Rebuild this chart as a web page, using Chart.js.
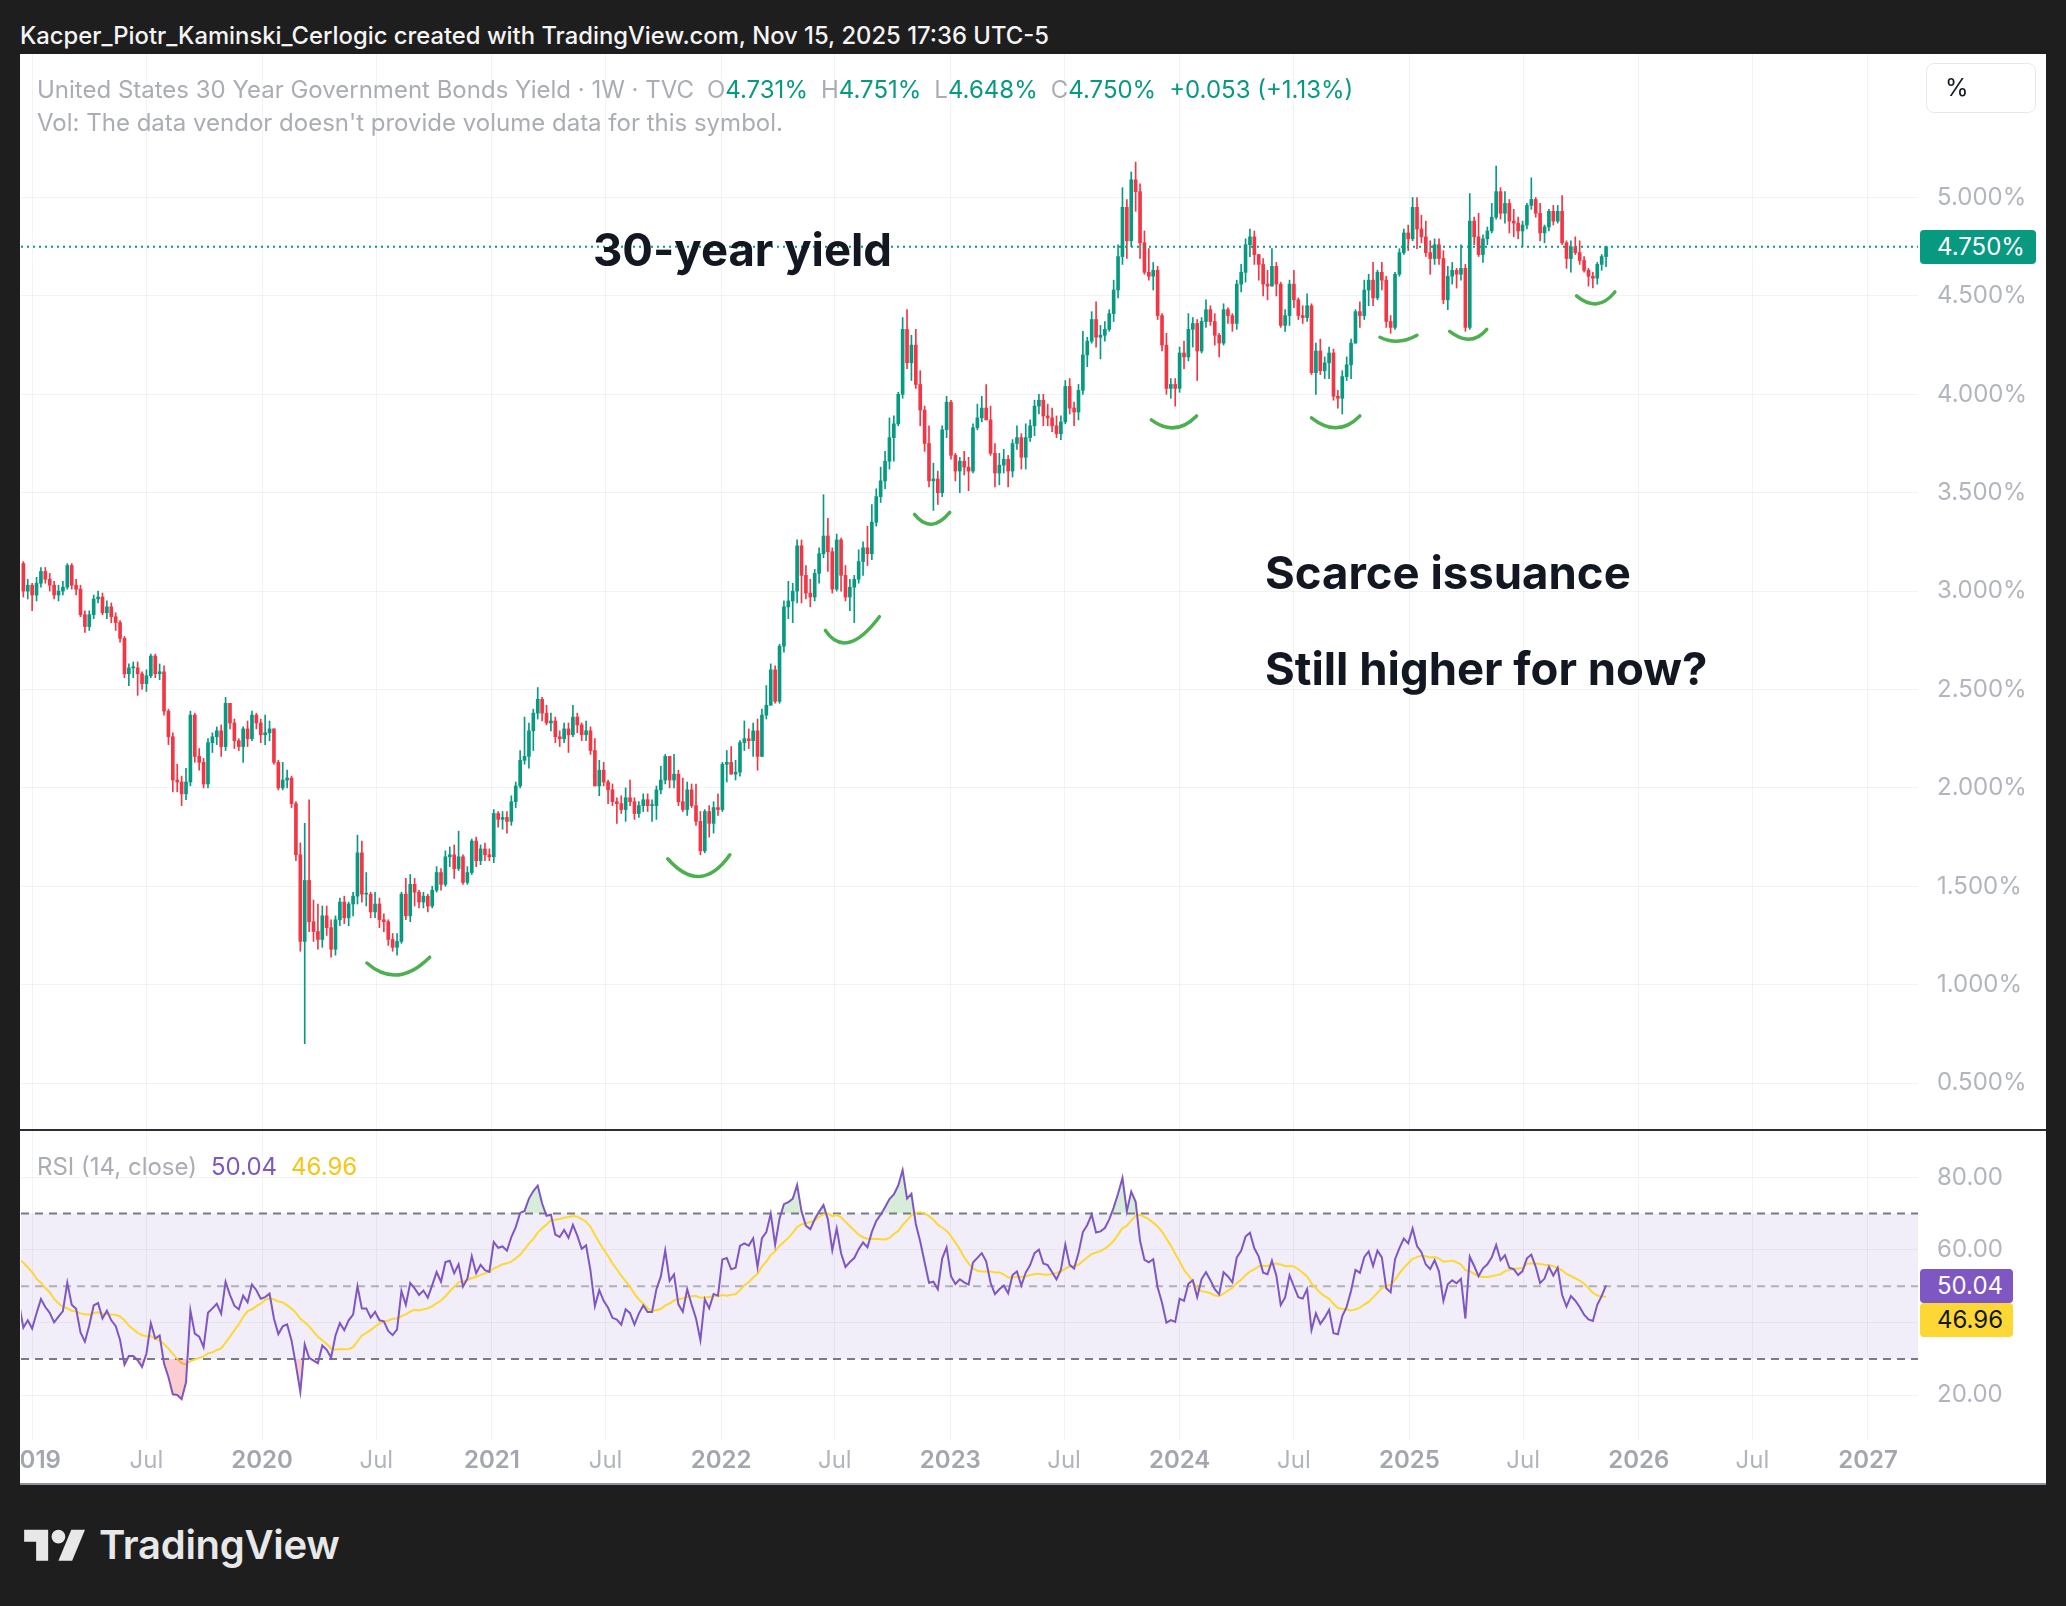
<!DOCTYPE html>
<html lang="en">
<head>
<meta charset="utf-8">
<title>United States 30 Year Government Bonds Yield</title>
<script src="https://cdn.jsdelivr.net/npm/chart.js@4.4.1/dist/chart.umd.min.js"></script>
<style>
  html, body { margin: 0; padding: 0; }
  body { width: 2066px; height: 1606px; background: #1e1e1e; position: relative; overflow: hidden;
         font-family: Inter, "Noto Sans", sans-serif; }
  .abs { position: absolute; white-space: nowrap; }
  #panel { left: 20px; top: 54px; width: 2026px; height: 1431px; background: #fff; border-bottom: 2px solid #8f929a; box-sizing: border-box; }
  #title { left: 20px; top: 20px; font-size: 23.8px; line-height: 32px; color: #f4f4f4; font-weight: 500; }
  .legend { left: 37px; font-size: 24px; line-height: 32px; color: #abadb5; }
  .legend span { margin-left: 13px; }
  .legend span.up { margin-left: 0; color: #089981; }
  #leg1 { top: 74px; }
  #leg2 { top: 107px; }
  #pctBtn { left: 1926px; top: 63px; width: 110px; height: 50px; border: 1px solid #e6e8ee; border-radius: 8px;
            font-size: 24px; line-height: 48px; color: #131722; box-sizing: border-box; padding-left: 18px; }
  canvas { position: absolute; }
  #priceCanvas { left: 21px; top: 54px; }
  #rsiCanvas { left: 21px; top: 1131px; }
  #sep { left: 20px; top: 1129px; width: 2026px; height: 2px; background: #2a2e39; }
  .note { font-size: 45.5px; font-weight: 700; color: #131722; line-height: 56px; }
  .tag { font-size: 24px; line-height: 34px; height: 34px; box-sizing: border-box; padding-left: 17px; border-radius: 4px; }
  #rsiLegend { left: 37px; top: 1151px; font-size: 24px; line-height: 32px; color: #abadb5; }
  #rsiLegend span { margin-left: 14px; }
  #logoText { left: 99px; top: 1520px; font-size: 40px; line-height: 50px; font-weight: 600; color: #e8e8e8; letter-spacing: -0.3px; }
</style>
</head>
<body>
<div id="panel" class="abs"></div>
<div id="title" class="abs">Kacper_Piotr_Kaminski_Cerlogic created with TradingView.com, Nov 15, 2025 17:36 UTC-5</div>

<canvas id="priceCanvas" width="2025" height="1076"></canvas>
<canvas id="rsiCanvas" width="2025" height="354"></canvas>
<div id="sep" class="abs"></div>

<div id="leg1" class="abs legend">United States 30 Year Government Bonds Yield · 1W · TVC<span>O</span><span class="up">4.731%</span><span>H</span><span class="up">4.751%</span><span>L</span><span class="up">4.648%</span><span>C</span><span class="up">4.750%</span><span class="up" style="margin-left:13px">+0.053 (+1.13%)</span></div>
<div id="leg2" class="abs legend">Vol: The data vendor doesn't provide volume data for this symbol.</div>
<div id="pctBtn" class="abs">%</div>

<div class="abs note" style="left:593px; top:222px;">30-year yield</div>
<div class="abs note" style="left:1265px; top:545px;">Scarce issuance</div>
<div class="abs note" style="left:1265px; top:641px;">Still higher for now?</div>

<div id="rsiLegend" class="abs">RSI (14, close)<span id="rsiVal" style="color:#7e57c2"></span><span id="maVal" style="color:#f5c518"></span></div>

<div id="priceTag" class="abs tag" style="left:1920px; width:116px; background:#089981; color:#fff;"></div>
<div id="rsiTag" class="abs tag" style="left:1920px; width:93px; background:#7e57c2; color:#fff;"></div>
<div id="maTag" class="abs tag" style="left:1920px; width:93px; background:#fdd835; color:#131722;"></div>

<svg class="abs" style="left:24px; top:1523px" width="62" height="48" viewBox="0 0 36 28">
  <path d="M14 22H7V11H0V4h14v18z" fill="#e8e8e8"/>
  <circle cx="20" cy="8" r="4" fill="#e8e8e8"/>
  <path d="M28 22h-8l7.5-18h8L28 22z" fill="#e8e8e8"/>
</svg>
<div id="logoText" class="abs">TradingView</div>

<script>
// Weekly bars of TVC:US30Y, week starting Monday 2018-12-17, values in %
const firstWeek = '2018-12-17';

// closes of the weeks before the first visible bar, only used to warm up the RSI
const warmupCloses = [
  3.12, 3.12, 3.10, 3.20, 3.03, 3.04, 3.07, 3.04, 3.04, 2.98,
  2.94, 2.94, 3.03, 3.08, 3.08, 3.03, 3.04, 3.00, 3.02, 3.10,
  3.08, 3.21, 3.19, 3.40, 3.32, 3.38, 3.31, 3.46, 3.37, 3.32,
  3.32, 3.30, 3.14, 3.14
];

const closes = [
  3.00, 3.03, 2.98, 3.04, 3.10, 3.06, 3.03, 2.98, 3.00, 3.02,
  3.13, 3.03, 3.01, 2.88, 2.82, 2.88, 2.96, 2.97, 2.89, 2.92,
  2.87, 2.84, 2.76, 2.58, 2.61, 2.61, 2.58, 2.53, 2.57, 2.67,
  2.58, 2.59, 2.39, 2.26, 2.04, 2.03, 1.97, 2.03, 2.37, 2.16,
  2.13, 2.02, 2.23, 2.26, 2.29, 2.21, 2.43, 2.33, 2.24, 2.21,
  2.30, 2.25, 2.37, 2.33, 2.27, 2.28, 2.30, 2.13, 2.00, 2.04,
  2.05, 1.92, 1.66, 1.22, 1.53, 1.32, 1.27, 1.23, 1.35, 1.29,
  1.18, 1.33, 1.42, 1.34, 1.41, 1.45, 1.67, 1.46, 1.46, 1.37,
  1.41, 1.33, 1.32, 1.23, 1.19, 1.22, 1.46, 1.35, 1.51, 1.47,
  1.42, 1.45, 1.40, 1.48, 1.57, 1.51, 1.65, 1.66, 1.59, 1.65,
  1.52, 1.57, 1.73, 1.63, 1.69, 1.66, 1.65, 1.87, 1.84, 1.85,
  1.83, 1.93, 2.01, 2.14, 2.16, 2.29, 2.38, 2.45, 2.38, 2.33,
  2.34, 2.26, 2.25, 2.30, 2.27, 2.36, 2.32, 2.27, 2.29, 2.19,
  2.01, 2.09, 2.03, 1.99, 1.93, 1.92, 1.89, 1.95, 1.93, 1.87,
  1.91, 1.94, 1.91, 1.91, 1.99, 2.04, 2.16, 2.04, 2.07, 1.93,
  1.89, 1.99, 1.91, 1.83, 1.68, 1.88, 1.82, 1.90, 1.89, 2.12,
  2.13, 2.07, 2.08, 2.23, 2.25, 2.24, 2.29, 2.16, 2.37, 2.42,
  2.60, 2.44, 2.72, 2.92, 2.95, 3.00, 3.23, 3.08, 2.99, 2.97,
  3.09, 3.19, 3.28, 3.20, 3.01, 3.26, 3.08, 2.97, 3.02, 3.06,
  3.15, 3.22, 3.19, 3.35, 3.48, 3.56, 3.66, 3.78, 3.85, 4.00,
  4.33, 4.16, 4.25, 4.05, 3.92, 3.75, 3.56, 3.57, 3.50, 3.82,
  3.96, 3.69, 3.61, 3.66, 3.63, 3.61, 3.83, 3.88, 3.93, 3.87,
  3.70, 3.60, 3.64, 3.67, 3.61, 3.75, 3.78, 3.68, 3.78, 3.84,
  3.94, 3.97, 3.89, 3.88, 3.84, 3.80, 3.86, 4.04, 3.93, 3.91,
  4.02, 4.20, 4.27, 4.38, 4.29, 4.30, 4.33, 4.41, 4.53, 4.70,
  4.95, 4.78, 5.09, 5.03, 4.77, 4.62, 4.60, 4.63, 4.40, 4.25,
  4.03, 4.05, 4.03, 4.21, 4.19, 4.33, 4.36, 4.22, 4.37, 4.43,
  4.37, 4.30, 4.26, 4.43, 4.40, 4.36, 4.56, 4.62, 4.76, 4.80,
  4.71, 4.66, 4.56, 4.55, 4.65, 4.56, 4.35, 4.40, 4.56, 4.48,
  4.40, 4.39, 4.45, 4.11, 4.22, 4.12, 4.16, 4.21, 3.99, 3.98,
  4.09, 4.15, 4.26, 4.42, 4.40, 4.53, 4.58, 4.49, 4.62, 4.58,
  4.37, 4.34, 4.61, 4.72, 4.82, 4.79, 4.95, 4.84, 4.80, 4.72,
  4.69, 4.76, 4.69, 4.48, 4.60, 4.63, 4.61, 4.64, 4.34, 4.88,
  4.80, 4.71, 4.79, 4.83, 4.90, 5.03, 4.92, 4.97, 4.88, 4.87,
  4.83, 4.86, 4.96, 4.99, 4.92, 4.82, 4.85, 4.93, 4.88, 4.93,
  4.77, 4.69, 4.75, 4.72, 4.68, 4.63, 4.60, 4.59, 4.66, 4.70,
  4.75
];

const highs = [
  3.15, 3.06, 3.04, 3.07, 3.12, 3.12, 3.09, 3.05, 3.03, 3.05,
  3.14, 3.14, 3.06, 3.03, 2.90, 2.90, 2.98, 3.00, 2.99, 2.95,
  2.94, 2.89, 2.85, 2.77, 2.63, 2.64, 2.64, 2.59, 2.60, 2.68,
  2.68, 2.63, 2.62, 2.40, 2.28, 2.12, 2.06, 2.10, 2.39, 2.38,
  2.20, 2.15, 2.25, 2.28, 2.31, 2.32, 2.46, 2.43, 2.35, 2.25,
  2.31, 2.34, 2.39, 2.38, 2.35, 2.37, 2.34, 2.30, 2.14, 2.13,
  2.09, 2.06, 1.93, 1.72, 1.82, 1.94, 1.43, 1.41, 1.40, 1.40,
  1.33, 1.35, 1.44, 1.45, 1.42, 1.47, 1.76, 1.73, 1.57, 1.47,
  1.47, 1.44, 1.36, 1.33, 1.26, 1.26, 1.47, 1.54, 1.56, 1.54,
  1.48, 1.47, 1.46, 1.50, 1.60, 1.59, 1.68, 1.70, 1.71, 1.78,
  1.66, 1.60, 1.74, 1.75, 1.71, 1.72, 1.69, 1.89, 1.88, 1.88,
  1.88, 1.96, 2.03, 2.19, 2.36, 2.33, 2.40, 2.51, 2.46, 2.42,
  2.38, 2.36, 2.29, 2.33, 2.33, 2.42, 2.38, 2.33, 2.34, 2.31,
  2.25, 2.14, 2.13, 2.04, 2.02, 1.95, 1.96, 2.00, 2.04, 1.95,
  1.93, 1.97, 1.97, 1.94, 2.01, 2.11, 2.17, 2.16, 2.17, 2.09,
  2.05, 2.03, 2.02, 2.02, 1.88, 1.89, 1.91, 1.93, 1.97, 2.13,
  2.19, 2.21, 2.14, 2.24, 2.34, 2.30, 2.33, 2.35, 2.40, 2.52,
  2.63, 2.62, 2.73, 2.95, 3.05, 3.04, 3.26, 3.26, 3.13, 3.06,
  3.11, 3.22, 3.49, 3.37, 3.22, 3.29, 3.27, 3.13, 3.06, 3.08,
  3.21, 3.25, 3.33, 3.44, 3.52, 3.63, 3.71, 3.88, 3.89, 4.01,
  4.39, 4.43, 4.30, 4.33, 4.12, 3.94, 3.84, 3.65, 3.61, 3.84,
  3.99, 3.97, 3.70, 3.68, 3.71, 3.68, 3.85, 3.95, 3.99, 4.05,
  3.94, 3.75, 3.70, 3.72, 3.69, 3.77, 3.84, 3.80, 3.85, 3.87,
  3.97, 4.00, 4.00, 3.95, 3.93, 3.89, 3.89, 4.07, 4.08, 3.96,
  4.05, 4.32, 4.29, 4.42, 4.47, 4.35, 4.37, 4.43, 4.58, 4.76,
  5.05, 4.99, 5.13, 5.18, 5.07, 4.83, 4.74, 4.67, 4.65, 4.41,
  4.31, 4.08, 4.08, 4.24, 4.27, 4.41, 4.39, 4.38, 4.39, 4.48,
  4.45, 4.41, 4.31, 4.46, 4.44, 4.41, 4.58, 4.66, 4.79, 4.84,
  4.83, 4.71, 4.69, 4.63, 4.74, 4.67, 4.57, 4.43, 4.58, 4.63,
  4.49, 4.45, 4.51, 4.46, 4.26, 4.28, 4.19, 4.24, 4.23, 4.02,
  4.12, 4.19, 4.28, 4.43, 4.47, 4.58, 4.61, 4.67, 4.63, 4.67,
  4.60, 4.40, 4.62, 4.74, 4.84, 4.86, 5.00, 5.00, 4.91, 4.88,
  4.78, 4.79, 4.79, 4.73, 4.65, 4.67, 4.64, 4.76, 4.66, 5.02,
  4.90, 4.92, 4.81, 4.85, 4.97, 5.16, 5.05, 5.03, 4.99, 4.94,
  4.90, 4.88, 4.97, 5.10, 5.00, 4.97, 4.86, 4.94, 4.96, 4.96,
  5.01, 4.78, 4.78, 4.80, 4.78, 4.70, 4.64, 4.62, 4.67, 4.71,
  4.751
];

const lows = [
  2.97, 2.96, 2.90, 2.95, 3.02, 3.04, 3.00, 2.96, 2.95, 2.98,
  3.01, 3.01, 2.98, 2.87, 2.79, 2.80, 2.86, 2.94, 2.88, 2.86,
  2.84, 2.80, 2.74, 2.56, 2.52, 2.56, 2.47, 2.50, 2.49, 2.56,
  2.56, 2.55, 2.37, 2.22, 1.98, 1.98, 1.91, 1.94, 2.01, 2.13,
  2.09, 2.00, 2.00, 2.18, 2.22, 2.16, 2.19, 2.30, 2.20, 2.19,
  2.13, 2.21, 2.24, 2.30, 2.23, 2.22, 2.24, 2.12, 1.99, 1.99,
  2.00, 1.90, 1.63, 1.17, 0.70, 1.27, 1.22, 1.18, 1.19, 1.25,
  1.14, 1.15, 1.30, 1.31, 1.30, 1.35, 1.41, 1.42, 1.40, 1.34,
  1.34, 1.29, 1.27, 1.20, 1.17, 1.15, 1.21, 1.33, 1.32, 1.40,
  1.39, 1.39, 1.37, 1.39, 1.47, 1.48, 1.50, 1.60, 1.54, 1.58,
  1.51, 1.51, 1.56, 1.60, 1.61, 1.63, 1.63, 1.62, 1.80, 1.79,
  1.77, 1.81, 1.90, 2.00, 2.12, 2.10, 2.19, 2.35, 2.34, 2.32,
  2.29, 2.23, 2.21, 2.23, 2.18, 2.26, 2.28, 2.24, 2.24, 2.17,
  2.01, 1.96, 2.01, 1.92, 1.91, 1.82, 1.87, 1.83, 1.91, 1.84,
  1.85, 1.88, 1.88, 1.83, 1.84, 1.97, 2.02, 2.00, 2.00, 1.91,
  1.88, 1.86, 1.90, 1.81, 1.66, 1.67, 1.75, 1.77, 1.86, 1.88,
  2.03, 2.07, 2.04, 2.06, 2.19, 2.20, 2.16, 2.09, 2.16, 2.35,
  2.42, 2.43, 2.43, 2.69, 2.86, 2.84, 2.94, 2.94, 2.96, 2.92,
  2.95, 3.04, 3.17, 3.10, 2.99, 3.00, 3.00, 2.95, 2.90, 2.84,
  3.04, 3.08, 3.13, 3.16, 3.33, 3.45, 3.52, 3.62, 3.66, 3.84,
  3.98, 4.13, 4.07, 4.03, 3.84, 3.71, 3.53, 3.41, 3.44, 3.48,
  3.78, 3.67, 3.56, 3.50, 3.59, 3.51, 3.60, 3.82, 3.86, 3.87,
  3.69, 3.53, 3.54, 3.60, 3.53, 3.58, 3.72, 3.62, 3.62, 3.76,
  3.79, 3.90, 3.84, 3.84, 3.81, 3.78, 3.77, 3.85, 3.90, 3.84,
  3.87, 4.00, 4.14, 4.26, 4.24, 4.18, 4.27, 4.32, 4.37, 4.49,
  4.66, 4.69, 4.75, 4.93, 4.69, 4.61, 4.58, 4.53, 4.38, 4.22,
  4.00, 3.98, 3.94, 4.01, 4.13, 4.17, 4.24, 4.07, 4.21, 4.34,
  4.35, 4.25, 4.19, 4.25, 4.36, 4.32, 4.33, 4.52, 4.57, 4.70,
  4.66, 4.58, 4.50, 4.48, 4.55, 4.50, 4.34, 4.32, 4.35, 4.44,
  4.38, 4.36, 4.37, 4.10, 4.00, 4.10, 4.08, 4.08, 3.97, 3.93,
  3.90, 4.07, 4.08, 4.26, 4.34, 4.38, 4.45, 4.45, 4.48, 4.53,
  4.34, 4.31, 4.33, 4.60, 4.71, 4.73, 4.78, 4.74, 4.77, 4.70,
  4.61, 4.66, 4.66, 4.46, 4.43, 4.56, 4.54, 4.58, 4.32, 4.33,
  4.76, 4.70, 4.67, 4.76, 4.82, 4.89, 4.89, 4.87, 4.82, 4.80,
  4.79, 4.75, 4.84, 4.94, 4.90, 4.78, 4.77, 4.83, 4.86, 4.87,
  4.76, 4.64, 4.62, 4.71, 4.66, 4.62, 4.55, 4.54, 4.56, 4.63,
  4.648
];

// time axis labels
const tickDates = ['2019-01-01', '2019-07-01', '2020-01-01', '2020-07-01', '2021-01-01', '2021-07-01',
  '2022-01-01', '2022-07-01', '2023-01-01', '2023-07-01', '2024-01-01', '2024-07-01',
  '2025-01-01', '2025-07-01', '2026-01-01', '2026-07-01', '2027-01-01'];
const tickLabels = ['2019', 'Jul', '2020', 'Jul', '2021', 'Jul', '2022', 'Jul', '2023', 'Jul',
  '2024', 'Jul', '2025', 'Jul', '2026', 'Jul', '2027'];
const priceTicks = [0.5, 1.0, 1.5, 2.0, 2.5, 3.0, 3.5, 4.0, 4.5, 5.0];
const rsiTicks = [20, 40, 60, 80];
const rsiLevels = { upper: 70, middle: 50, lower: 30 };
// values shown in the RSI legend of the snapshot
const rsiReadout = [50.04, 46.96];

// hand drawn green "smiles" under the lows: [start, bottom, end] as [date, yield]
const smileArcs = [
  [['2020-06-16', 1.11], ['2020-08-04', 1.05], ['2020-09-24', 1.14]],
  [['2021-10-08', 1.64], ['2021-11-28', 1.55], ['2022-01-15', 1.66]],
  [['2022-06-16', 2.80], ['2022-07-24', 2.74], ['2022-09-10', 2.87]],
  [['2022-11-05', 3.39], ['2022-12-02', 3.34], ['2022-12-31', 3.40]],
  [['2023-11-17', 3.87], ['2023-12-24', 3.83], ['2024-01-28', 3.89]],
  [['2024-07-29', 3.88], ['2024-09-07', 3.83], ['2024-10-14', 3.89]],
  [['2024-11-15', 4.29], ['2024-12-14', 4.27], ['2025-01-13', 4.30]],
  [['2025-03-06', 4.32], ['2025-04-07', 4.28], ['2025-05-04', 4.33]],
  [['2025-09-24', 4.50], ['2025-10-26', 4.46], ['2025-11-24', 4.52]]
];

const UP = '#089981', DOWN = '#f23645', GRID = 'rgba(42,46,57,0.06)';
const WEEK = 7 * 864e5, YEAR = 365.25 * 864e5, Y2020 = Date.UTC(2020, 0, 1);
// visible time range of the panes
const xMin = Y2020 - 1.0506 * YEAR, xMax = Y2020 + 7.2188 * YEAR;

const weekDates = closes.map((_, i) => Date.parse(firstWeek) + i * WEEK);
const warmDates = warmupCloses.map((_, i) => Date.parse(firstWeek) - (warmupCloses.length - i) * WEEK);
const opens = closes.map((c, i) => i === 0 ? warmupCloses[warmupCloses.length - 1] : closes[i - 1]);
const barColors = closes.map((c, i) => c >= opens[i] ? UP : DOWN);

// RSI (Wilder) and its SMA, as TradingView computes them
function rsi(values, len) {
  const out = values.map(() => null);
  let up = 0, down = 0;
  for (let i = 1; i < values.length; i++) {
    const ch = values[i] - values[i - 1];
    const g = Math.max(ch, 0), l = Math.max(-ch, 0);
    if (i <= len) {
      up += g; down += l;
      if (i < len) continue;
      up /= len; down /= len;
    } else {
      up = (up * (len - 1) + g) / len;
      down = (down * (len - 1) + l) / len;
    }
    out[i] = down === 0 ? 100 : 100 - 100 / (1 + up / down);
  }
  return out;
}
function sma(values, len) {
  return values.map((v, i) => {
    const win = values.slice(i - len + 1, i + 1);
    if (i < len - 1 || win.some(w => w === null)) return null;
    return win.reduce((a, b) => a + b, 0) / len;
  });
}

const allCloses = warmupCloses.concat(closes);
const allDates = warmDates.concat(weekDates);
const rsiVals = rsi(allCloses, 14);
const maVals = sma(rsiVals, 14);

Chart.defaults.font.family = 'Inter, "Noto Sans", sans-serif';
Chart.defaults.animation = false;

function timeAxis(showLabels) {
  return {
    type: 'linear', min: xMin, max: xMax, offset: false,
    grid: { color: GRID, drawTicks: false, offset: false },
    border: { display: false },
    afterBuildTicks: s => { s.ticks = tickDates.map(d => ({ value: Date.parse(d) })); },
    ticks: {
      display: showLabels, autoSkip: false, maxRotation: 0, minRotation: 0, padding: 6,
      callback: (v, i) => tickLabels[i],
      color: c => tickLabels[c.index] === 'Jul' ? '#b2b5be' : '#a3a6af',
      font: c => ({ size: 24, weight: tickLabels[c.index] === 'Jul' ? 400 : 600 })
    },
    afterFit: s => { s.height = showLabels ? 45 : 0; s.paddingLeft = 0; s.paddingRight = 0; }
  };
}

const smilePlugin = {
  id: 'smiles',
  afterDatasetsDraw(chart) {
    const { ctx, scales: { x, y } } = chart;
    ctx.save();
    ctx.strokeStyle = '#4caf50';
    ctx.lineWidth = 3.5;
    ctx.lineCap = 'round';
    smileArcs.forEach(a => {
      const p = a.map(([d, v]) => [x.getPixelForValue(Date.parse(d)), y.getPixelForValue(v)]);
      const cx = 2 * p[1][0] - (p[0][0] + p[2][0]) / 2;
      const cy = 2 * p[1][1] - (p[0][1] + p[2][1]) / 2;
      ctx.beginPath();
      ctx.moveTo(p[0][0], p[0][1]);
      ctx.quadraticCurveTo(cx, cy, p[2][0], p[2][1]);
      ctx.stroke();
    });
    ctx.restore();
  }
};

const lastClose = closes[closes.length - 1];

const priceChart = new Chart(document.getElementById('priceCanvas'), {
  type: 'bar',
  data: {
    datasets: [
      {
        type: 'line', order: 0,
        data: [{ x: xMin, y: lastClose }, { x: xMax, y: lastClose }],
        borderColor: UP, borderWidth: 2, borderDash: [2, 4], pointRadius: 0
      },
      {
        order: 1, grouped: false, barThickness: 3, minBarLength: 1,
        data: weekDates.map((x, i) => ({ x, y: [opens[i], closes[i]] })),
        backgroundColor: barColors
      },
      {
        order: 2, grouped: false, barThickness: 1,
        data: weekDates.map((x, i) => ({ x, y: [lows[i], highs[i]] })),
        backgroundColor: barColors
      }
    ]
  },
  options: {
    responsive: false, devicePixelRatio: 1, events: [],
    layout: { padding: 0 },
    plugins: { legend: { display: false }, tooltip: { enabled: false } },
    scales: {
      x: timeAxis(false),
      y: {
        position: 'right', min: 0.2617, max: 5.7292,
        grid: { color: GRID, drawTicks: false },
        border: { display: false },
        afterBuildTicks: s => { s.ticks = priceTicks.map(v => ({ value: v })); },
        ticks: { padding: 19, color: '#b2b5be', font: { size: 24 }, callback: v => v.toFixed(3) + '%' },
        afterFit: s => { s.width = 128; s.paddingTop = 0; s.paddingBottom = 0; }
      }
    }
  },
  plugins: [smilePlugin]
});

const rsiBandPlugin = {
  id: 'rsiBand',
  beforeDatasetsDraw(chart) {
    const { ctx, chartArea: a, scales: { y } } = chart;
    const yTop = y.getPixelForValue(rsiLevels.upper);
    const yBot = y.getPixelForValue(rsiLevels.lower);
    const yMid = y.getPixelForValue(rsiLevels.middle);
    ctx.save();
    ctx.fillStyle = 'rgba(126,87,194,0.1)';
    ctx.fillRect(a.left, yTop, a.right - a.left, yBot - yTop);
    ctx.lineWidth = 2;
    ctx.setLineDash([8, 6]);
    ctx.strokeStyle = '#787b86';
    [yTop, yBot].forEach(py => {
      ctx.beginPath(); ctx.moveTo(a.left, py); ctx.lineTo(a.right, py); ctx.stroke();
    });
    ctx.strokeStyle = 'rgba(120,123,134,0.55)';
    ctx.beginPath(); ctx.moveTo(a.left, yMid); ctx.lineTo(a.right, yMid); ctx.stroke();
    ctx.restore();
  }
};

const rsiPoints = allDates.map((x, i) => ({ x, y: rsiVals[i] }));

const rsiChart = new Chart(document.getElementById('rsiCanvas'), {
  type: 'line',
  data: {
    datasets: [
      {
        data: rsiPoints, borderColor: '#7e57c2', borderWidth: 2, pointRadius: 0, tension: 0,
        fill: { target: { value: rsiLevels.upper }, above: 'rgba(76,175,80,0.22)', below: 'rgba(0,0,0,0)' }
      },
      {
        data: rsiPoints, borderWidth: 0, borderColor: 'rgba(0,0,0,0)', pointRadius: 0, tension: 0,
        fill: { target: { value: rsiLevels.lower }, above: 'rgba(0,0,0,0)', below: 'rgba(242,54,69,0.25)' }
      },
      {
        data: allDates.map((x, i) => ({ x, y: maVals[i] })),
        borderColor: '#fdd835', borderWidth: 2, pointRadius: 0, tension: 0, fill: false
      }
    ]
  },
  options: {
    responsive: false, devicePixelRatio: 1, events: [],
    layout: { padding: 0 },
    plugins: { legend: { display: false }, tooltip: { enabled: false } },
    scales: {
      x: timeAxis(true),
      y: {
        position: 'right', min: 7.69, max: 92.74,
        grid: { color: GRID, drawTicks: false },
        border: { display: false },
        afterBuildTicks: s => { s.ticks = rsiTicks.map(v => ({ value: v })); },
        ticks: { padding: 19, color: '#b2b5be', font: { size: 24 }, callback: v => v.toFixed(2) },
        afterFit: s => { s.width = 128; s.paddingTop = 0; s.paddingBottom = 0; }
      }
    }
  },
  plugins: [rsiBandPlugin]
});

// price and indicator tags on the right scales
const priceTag = document.getElementById('priceTag');
priceTag.textContent = lastClose.toFixed(3) + '%';
priceTag.style.top = (54 + priceChart.scales.y.getPixelForValue(lastClose) - 17) + 'px';

const rsiTag = document.getElementById('rsiTag');
const maTag = document.getElementById('maTag');
rsiTag.textContent = rsiReadout[0].toFixed(2);
maTag.textContent = rsiReadout[1].toFixed(2);
const rsiTop = 1131 + rsiChart.scales.y.getPixelForValue(rsiReadout[0]) - 17;
rsiTag.style.top = rsiTop + 'px';
maTag.style.top = (rsiTop + 34) + 'px';
document.getElementById('rsiVal').textContent = rsiReadout[0].toFixed(2);
document.getElementById('maVal').textContent = rsiReadout[1].toFixed(2);
</script>
</body>
</html>
